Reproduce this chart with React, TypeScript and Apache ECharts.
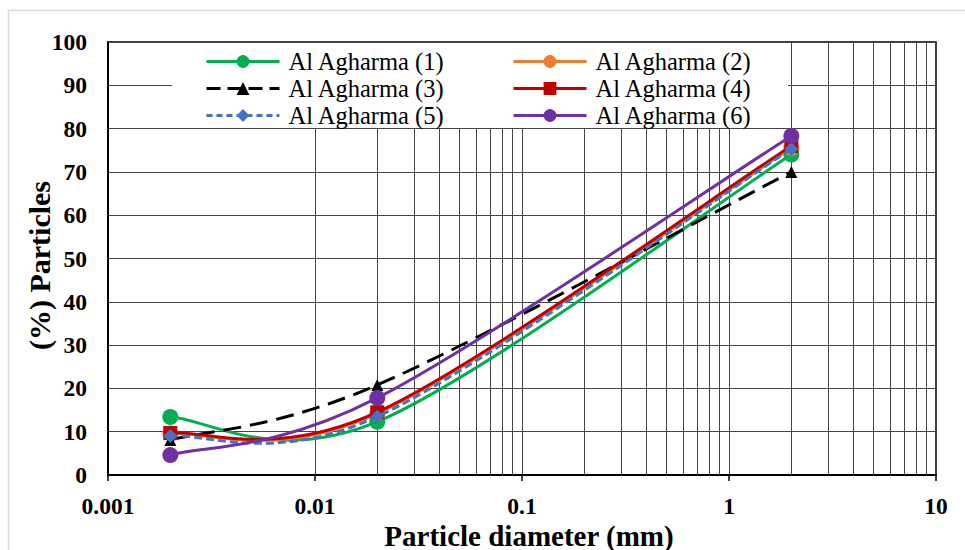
import React, { useEffect, useRef } from "react";
import * as echarts from "echarts";

const diameters = [0.002, 0.02, 2];
const seriesNames = [
  "Al Agharma (1)",
  "Al Agharma (2)",
  "Al Agharma (3)",
  "Al Agharma (4)",
  "Al Agharma (5)",
  "Al Agharma (6)",
];
const s1 = [13.4, 12.3, 74.0];
const s2 = [9.6, 14.2, 75.5];
const s3 = [8.1, 20.8, 70.0];
const s4 = [9.7, 14.5, 76.0];
const s5 = [9.0, 13.5, 75.3];
const s6 = [4.6, 17.8, 78.3];
const xTickLabels = ["0.001", "0.01", "0.1", "1", "10"];
const decades = [0.001, 0.01, 0.1, 1];
const minorMultipliers = [2, 3, 4, 5, 6, 7, 8, 9];

const FONT = "Liberation Serif";

export default function App() {
  const ref = useRef<HTMLDivElement>(null);
  useEffect(() => {
    if (!ref.current) return;
    const chart = echarts.init(ref.current, undefined, { renderer: "svg" });
    const values = [s1, s2, s3, s4, s5, s6];
    const colors = ["#00B050", "#ED7D31", "#000000", "#C00000", "#4472C4", "#7030A0"];
    const symbols = ["circle", "circle", "triangle", "rect", "diamond", "circle"];
    const symbolSizes = [16, 16, 12, 14, 14, 16];
    const echDash: any[] = ["solid", "solid", [14, 7], "solid", [6, 4], "solid"];
    const svgDash: any[] = [null, null, [18, 9], null, [8, 4], null];
    const minorLines: any[] = [];
    decades.forEach((d) =>
      minorMultipliers.forEach((m) => minorLines.push({ xAxis: parseFloat((d * m).toPrecision(3)) }))
    );
    const series: any[] = [];
    values.forEach((vals, i) => {
      const pts = diameters.map((d, j) => [d, vals[j]]);
      series.push({
        name: "_curve" + i,
        type: "custom",
        data: pts,
        z: 3 + i,
        silent: true,
        renderItem: (params: any, api: any) => {
          if (params.dataIndex !== 0) return null;
          const p = pts.map((pt) => api.coord(pt));
          let d = `M${p[0][0]},${p[0][1]}`;
          for (let k = 0; k < p.length - 1; k++) {
            const p0 = p[k - 1] ?? p[k];
            const p1 = p[k];
            const p2 = p[k + 1];
            const p3 = p[k + 2] ?? p[k + 1];
            const c1x = p1[0] + (p2[0] - p0[0]) / 6;
            const c1y = p1[1] + (p2[1] - p0[1]) / 6;
            const c2x = p2[0] - (p3[0] - p1[0]) / 6;
            const c2y = p2[1] - (p3[1] - p1[1]) / 6;
            d += ` C${c1x},${c1y} ${c2x},${c2y} ${p2[0]},${p2[1]}`;
          }
          return {
            type: "path",
            shape: { pathData: d },
            style: {
              fill: "none",
              stroke: colors[i],
              lineWidth: 3,
              lineDash: svgDash[i],
            },
          };
        },
      });
      series.push({
        name: seriesNames[i],
        type: "line",
        data: pts,
        symbol: symbols[i],
        symbolSize: symbolSizes[i],
        itemStyle: { color: colors[i], borderWidth: 0 },
        lineStyle: { color: colors[i], width: 3, opacity: 0 },
        z: 3 + i,
      });
    });
    series.push({
      name: "_grid",
      type: "line",
      data: [],
      silent: true,
      markLine: {
        silent: true,
        symbol: "none",
        z: 1,
        label: { show: false },
        lineStyle: { color: "#444", width: 1, type: "solid" },
        data: minorLines,
        animation: false,
      },
    });
    const legendItem = (i: number) => ({
      name: seriesNames[i],
      lineStyle: { color: colors[i], width: 3, type: echDash[i], opacity: 1 },
    });
    const legendCommon = {
      orient: "vertical",
      top: 44,
      itemWidth: 73,
      itemHeight: 16,
      itemGap: 2,
      textStyle: { fontFamily: FONT, fontSize: 24.5, color: "#000", padding: [0, 0, 0, 4] },
      z: 10,
    };
    chart.setOption({
      animation: false,
      backgroundColor: "#fff",
      grid: {
        left: 108,
        right: 29,
        top: 42,
        bottom: 75,
        outerBoundsMode: "none",
        show: true,
        borderColor: "#000",
        borderWidth: 1.5,
        backgroundColor: "transparent",
      },
      legend: [
        { ...legendCommon, left: 200, data: [legendItem(0), legendItem(2), legendItem(4)] },
        { ...legendCommon, left: 507, data: [legendItem(1), legendItem(3), legendItem(5)] },
      ],
      xAxis: {
        type: "log",
        logBase: 10,
        min: 0.001,
        max: 10,
        name: "Particle diameter (mm)",
        nameLocation: "middle",
        nameGap: 46,
        nameMoveOverlap: false,
        nameTextStyle: { fontFamily: FONT, fontSize: 29, fontWeight: "bold", color: "#000", padding: [0, 0, 0, 14] },
        axisLine: { lineStyle: { color: "#000", width: 2 } },
        axisTick: { show: true, length: 6, lineStyle: { color: "#000", width: 1.5 } },
        axisLabel: {
          fontFamily: FONT,
          fontSize: 23.5,
          fontWeight: "bold",
          color: "#000",
          margin: 19,
          formatter: (v: number) => {
            const idx = Math.round(Math.log10(v)) + 3;
            return xTickLabels[idx] ?? String(v);
          },
        },
        splitLine: { show: true, lineStyle: { color: "#444", width: 1 } },
      },
      yAxis: {
        type: "value",
        min: 0,
        max: 100,
        interval: 10,
        name: "(%) Particles",
        nameLocation: "middle",
        nameGap: 54,
        nameMoveOverlap: false,
        nameTextStyle: { fontFamily: FONT, fontSize: 30, fontWeight: "bold", color: "#000", padding: [0, 14, 0, 0] },
        axisLine: { show: true, lineStyle: { color: "#000", width: 2 } },
        axisTick: { show: false },
        axisLabel: { fontFamily: FONT, fontSize: 23.5, fontWeight: "bold", color: "#000", margin: 21 },
        splitLine: { show: true, lineStyle: { color: "#444", width: 1 } },
      },
      graphic: [
        {
          type: "rect",
          z: 2,
          shape: { x: 172, y: 43, width: 616, height: 85 },
          style: { fill: "#fff" },
          silent: true,
        },
        {
          type: "rect",
          z: 0,
          shape: { x: 8.5, y: 10.5, width: 1000, height: 600 },
          style: { fill: "none", stroke: "#d9d9d9", lineWidth: 1.5 },
          silent: true,
        },
      ],
      series,
    });
    return () => chart.dispose();
  }, []);
  return (
    <div
      ref={ref}
      style={{ position: "fixed", left: 0, top: 0, width: 965, height: 550 }}
    />
  );
}
